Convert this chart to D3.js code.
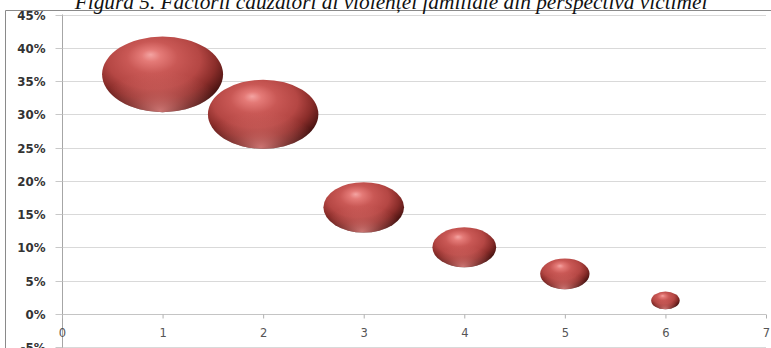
<!DOCTYPE html>
<html>
<head>
<meta charset="utf-8">
<script src="https://cdn.jsdelivr.net/npm/d3@7"></script>
<style>
  html, body { margin: 0; padding: 0; background: #fff; }
  svg { display: block; }
</style>
</head>
<body>
<svg id="chart" width="771" height="348"></svg>
<script>
const titleText = "Figura 5. Factorii cauzatori ai violenței familiale din perspectiva victimei";
const xValues = [1, 2, 3, 4, 5, 6];
const yValues = [36, 30, 16, 10, 6, 2];
const bubbleSizes = [36, 30, 16, 10, 6, 2];
const yTicks = [-5, 0, 5, 10, 15, 20, 25, 30, 35, 40, 45];
const xTicks = [0, 1, 2, 3, 4, 5, 6, 7];

const svg = d3.select("#chart");
const W = 771, H = 348;
const plot = { left: 62, right: 766, top: 14.5, bottom: 347 };

const x = d3.scaleLinear().domain([0, 7]).range([plot.left, plot.right]);
const y = d3.scaleLinear().domain([-5, 45]).range([plot.bottom, plot.top]);
const r = d3.scaleSqrt().domain([0, 36]).range([0, 60.5]);
const aspect = 0.625;

// defs: gradients for 3D bubble
const defs = svg.append("defs");
const g1 = defs.append("radialGradient").attr("id", "ball")
  .attr("cx", "45%").attr("cy", "36%").attr("r", "66%")
  .attr("fx", "40%").attr("fy", "24%");
[["0%", "#f4a4a2"], ["12%", "#e47a77"], ["32%", "#c95855"], ["58%", "#b54744"],
 ["76%", "#8a2d2a"], ["90%", "#561816"], ["100%", "#2e0b0a"]]
  .forEach(([o, c]) => g1.append("stop").attr("offset", o).attr("stop-color", c));

const g2 = defs.append("radialGradient").attr("id", "reflect")
  .attr("cx", "48%").attr("cy", "98%").attr("r", "52%");
[["0%", "#ec8d8a", 0.8], ["50%", "#d9706c", 0.4], ["100%", "#d9706c", 0]]
  .forEach(([o, c, a]) => g2.append("stop").attr("offset", o).attr("stop-color", c).attr("stop-opacity", a));

// frame (outer chart border)
svg.append("line").attr("x1", 5.5).attr("x2", 5.5).attr("y1", 10.5).attr("y2", H)
  .attr("stroke", "#8a8a8a").attr("stroke-width", 1);
svg.append("line").attr("x1", 5.5).attr("x2", W).attr("y1", 10.5).attr("y2", 10.5)
  .attr("stroke", "#8a8a8a").attr("stroke-width", 1);

// gridlines
svg.append("g").selectAll("line").data(yTicks.filter(d => d !== 0)).join("line")
  .attr("x1", plot.left).attr("x2", plot.right)
  .attr("y1", d => Math.round(y(d)) + 0.5).attr("y2", d => Math.round(y(d)) + 0.5)
  .attr("stroke", "#d9d9d9").attr("stroke-width", 1);

// y axis with ticks
const yAxis = d3.axisLeft(y).tickValues(yTicks).tickSize(7).tickFormat(d => d + "%");
const yg = svg.append("g").attr("transform", `translate(${plot.left + 0.5},0)`).call(yAxis);
yg.select(".domain").attr("stroke", "#a6a6a6").attr("d", `M0,${plot.top}V${H}`);
yg.selectAll(".tick line").attr("stroke", "#c8c8c8");
yg.selectAll(".tick").attr("transform", d => `translate(0,${Math.round(y(d)) + 0.5})`);
yg.selectAll(".tick text")
  .attr("x", -17).attr("dy", "0.36em")
  .attr("font-family", "'DejaVu Sans', Verdana, sans-serif")
  .attr("font-weight", "bold").attr("font-size", 11.8).attr("fill", "#333");

// x axis at 0%
const xAxis = d3.axisBottom(x).tickValues(xTicks).tickSize(4).tickFormat(d3.format("d"));
const xg = svg.append("g").attr("transform", `translate(0,${Math.round(y(0)) + 0.5})`).call(xAxis);
xg.select(".domain").attr("stroke", "#c4c4c4").attr("d", `M${plot.left},0H${plot.right}`);
xg.selectAll(".tick line").attr("stroke", "#b0b0b0");
xg.selectAll(".tick text")
  .attr("y", 18).attr("dy", "0.35em")
  .attr("font-family", "'DejaVu Sans', Verdana, sans-serif")
  .attr("font-size", 11.5).attr("fill", "#555");

// bubbles
const data = xValues.map((d, i) => ({ x: d, y: yValues[i], s: bubbleSizes[i] }));
const bg = svg.append("g");
bg.selectAll("ellipse.base").data(data).join("ellipse").attr("class", "base")
  .attr("cx", d => x(d.x)).attr("cy", d => y(d.y))
  .attr("rx", d => r(d.s)).attr("ry", d => r(d.s) * aspect)
  .attr("fill", "url(#ball)");
bg.selectAll("ellipse.refl").data(data).join("ellipse").attr("class", "refl")
  .attr("cx", d => x(d.x)).attr("cy", d => y(d.y))
  .attr("rx", d => r(d.s)).attr("ry", d => r(d.s) * aspect)
  .attr("fill", "url(#reflect)");

// title
const t = svg.append("text")
  .attr("x", 391).attr("y", 9).attr("text-anchor", "middle")
  .attr("font-family", "'Liberation Serif', 'Times New Roman', serif")
  .attr("font-style", "italic").attr("font-size", 20).attr("fill", "#111")
  .text(titleText);
const target = 633;
const len = t.node().getComputedTextLength();
if (len > 0) t.attr("font-size", (20 * target / len).toFixed(2));
</script>
</body>
</html>
